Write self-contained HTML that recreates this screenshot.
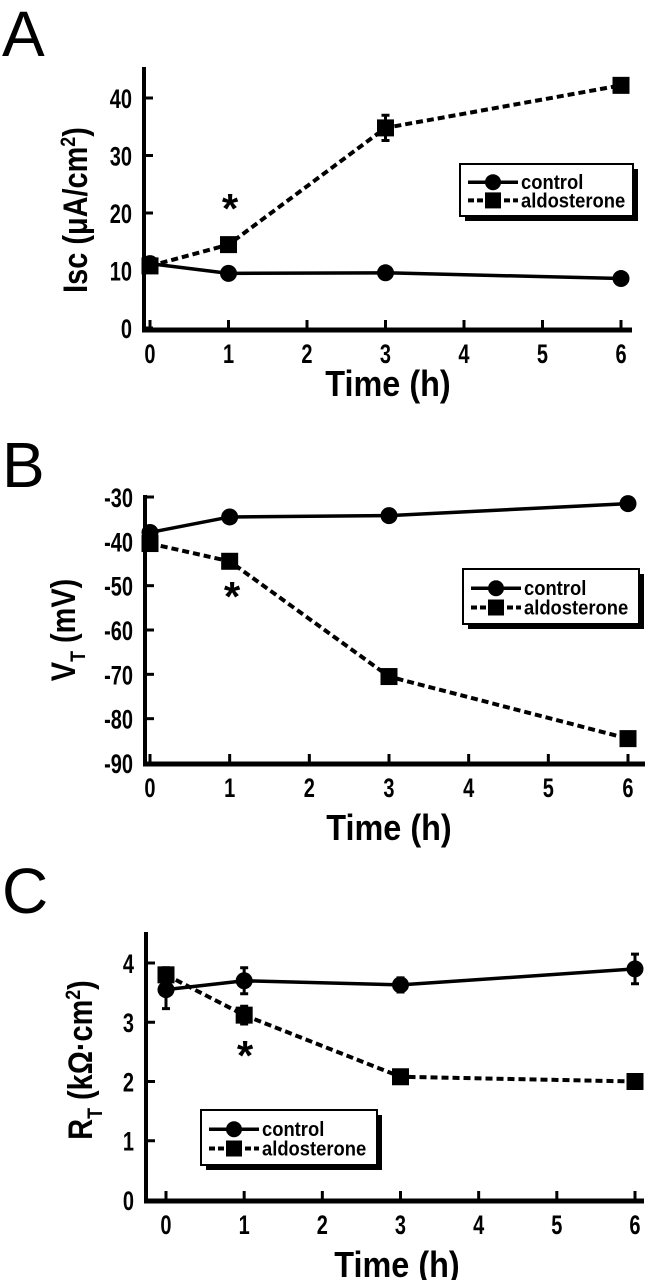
<!DOCTYPE html>
<html><head><meta charset="utf-8">
<style>
html,body{margin:0;padding:0;background:#fff;}
svg{display:block;font-family:"Liberation Sans",Arial,sans-serif;}
.tk{font-weight:bold;font-size:27px;}
.tt{font-weight:bold;font-size:34px;}
.tm{font-weight:bold;font-size:36px;}
.lg{font-weight:bold;font-size:20px;}
.pl{font-size:64px;}
</style></head>
<body>
<svg id="fig" width="649" height="1280" viewBox="0 0 649 1280" xmlns="http://www.w3.org/2000/svg">
<text class="pl" x="2" y="56">A</text>
<text class="pl" x="2" y="487">B</text>
<text class="pl" x="2" y="913">C</text>
</svg>
<script>
const hours = [0, 1, 3, 6];
const xTicks = [0, 1, 2, 3, 4, 5, 6];
// Panel A: Isc
const aControl = [11.2, 9.5, 9.6, 8.6];
const aControlErr = [0, 0, 0, 0];
const aAldo = [10.8, 14.5, 34.8, 42.2];
const aAldoErr = [0, 0, 2.2, 0];
const aYTicks = [0, 10, 20, 30, 40];
// Panel B: VT
const bControl = [-38, -34.5, -34.2, -31.5];
const bControlErr = [0, 0, 0, 0];
const bAldo = [-40.5, -44.5, -70.5, -84.5];
const bAldoErr = [0, 0, 0, 0];
const bYTicks = [-90, -80, -70, -60, -50, -40, -30];
// Panel C: RT
const cControl = [3.55, 3.7, 3.63, 3.9];
const cControlErr = [0.32, 0.22, 0.12, 0.25];
const cAldo = [3.8, 3.12, 2.08, 2.0];
const cAldoErr = [0.12, 0.15, 0, 0];
const cYTicks = [0, 1, 2, 3, 4];

const NS = "http://www.w3.org/2000/svg";
const svg = document.getElementById('fig');
function mk(tag, attrs, parent) {
  const e = document.createElementNS(NS, tag);
  for (const k in attrs) e.setAttribute(k, attrs[k]);
  (parent || svg).appendChild(e);
  return e;
}

function panel(cfg) {
  const g = mk('g', {});
  
  
  const X = h => cfg.x0 + (cfg.x6 - cfg.x0) * h / 6;
  const Y = v => cfg.yb + (cfg.ytop - cfg.yb) * (v - cfg.ymin) / (cfg.ymax - cfg.ymin);
  const ya = mk('line', {x1: cfg.ax, y1: cfg.axTop, x2: cfg.ax, y2: cfg.axY + 2, stroke: '#000', 'stroke-width': 4}, g);
  
  
  const xa = mk('line', {x1: cfg.ax - 2, y1: cfg.axY, x2: cfg.axRight, y2: cfg.axY, stroke: '#000', 'stroke-width': 5}, g);
  
  
  cfg.yTicks.forEach(v => {
    const t = mk('line', {x1: cfg.ax, y1: Y(v), x2: cfg.ax + 9, y2: Y(v), stroke: '#000', 'stroke-width': 3}, g);
    
    
    const lx = cfg.ax - 12;
    const l = mk('text', {class: 'tk', x: lx, y: Y(v) + 10, 'text-anchor': 'end', transform: `translate(${lx} 0) scale(0.74 1) translate(${-lx} 0)`}, g);
    l.textContent = String(v);
    
    
  });
  xTicks.forEach(h => {
    const t = mk('line', {x1: X(h), y1: cfg.axY, x2: X(h), y2: cfg.axY - 10, stroke: '#000', 'stroke-width': 3}, g);
    
    
    const l = mk('text', {class: 'tk', x: X(h), y: cfg.axY + 33, 'text-anchor': 'middle', transform: `translate(${X(h)} 0) scale(0.74 1) translate(${-X(h)} 0)`}, g);
    l.textContent = String(h);
    
    
  });
  const xt = mk('text', {class: 'tm', x: cfg.timeX, y: cfg.timeY, 'text-anchor': 'middle', transform: `translate(${cfg.timeX} 0) scale(0.9 1) translate(${-cfg.timeX} 0)`}, g);
  xt.textContent = 'Time (h)';
  
  
  const yt = mk('text', {class: 'tt', x: 0, y: 0, 'text-anchor': 'middle', transform: `translate(${cfg.titleX} ${cfg.titleY}) rotate(-90) scale(0.85 1)`}, g);
  yt.innerHTML = cfg.title;
  
  
  function series(vals, errs, dashed, square, nm) {
    const pts = vals.map((v, i) => X(hours[i]) + ',' + Y(v)).join(' ');
    const pl = mk('polyline', {points: pts, fill: 'none', stroke: '#000', 'stroke-width': dashed ? 4 : 3.5, 'stroke-dasharray': dashed ? '7,4' : 'none'}, g);
    
    
    vals.forEach((v, i) => {
      const x = X(hours[i]), y = Y(v);
      if (errs[i] > 0) {
        const e1 = Y(v + errs[i]), e2 = Y(v - errs[i]);
        const eb = mk('path', {d: `M${x},${e1}V${e2}M${x - 4},${e1}H${x + 4}M${x - 4},${e2}H${x + 4}`, stroke: '#000', 'stroke-width': 3, fill: 'none'}, g);
        
        
      }
      let m;
      if (square) m = mk('rect', {x: x - 8.5, y: y - 8.5, width: 17, height: 17, fill: '#000'}, g);
      else m = mk('circle', {cx: x, cy: y, r: 8.5, fill: '#000'}, g);
      
      
    });
  }
  series(cfg.ctrl, cfg.ctrlErr, false, false, 'control');
  series(cfg.aldo, cfg.aldoErr, true, true, 'aldosterone');
  const st = mk('text', {x: cfg.starX, y: cfg.starY + 18, 'text-anchor': 'middle', 'font-size': 42, 'font-weight': 'bold'}, g);
  st.textContent = '*';
  
  
  const L = cfg.leg;
  const lg = mk('g', {}, g);
  
  
  mk('rect', {x: L.x + 5, y: L.y + 5, width: L.w, height: L.h, fill: '#000'}, lg);
  mk('rect', {x: L.x, y: L.y, width: L.w, height: L.h, fill: '#fff', stroke: '#000', 'stroke-width': 2}, lg);
  const r1 = L.y + L.h * 0.35, r2 = L.y + L.h * 0.7;
  const e1 = mk('g', {}, lg);
  
  
  mk('line', {x1: L.x + 8, y1: r1, x2: L.x + 58, y2: r1, stroke: '#000', 'stroke-width': 3.5}, e1);
  mk('circle', {cx: L.x + 33, cy: r1, r: 8, fill: '#000'}, e1);
  const tx = L.x + 61;
  const t1 = mk('text', {class: 'lg', x: tx, y: r1 + 7, transform: `translate(${tx} 0) scale(0.92 1) translate(${-tx} 0)`}, e1);
  t1.textContent = 'control';
  const e2 = mk('g', {}, lg);
  
  
  mk('line', {x1: L.x + 8, y1: r2, x2: L.x + 58, y2: r2, stroke: '#000', 'stroke-width': 4, 'stroke-dasharray': '6,3'}, e2);
  mk('rect', {x: L.x + 25, y: r2 - 8, width: 16, height: 16, fill: '#000'}, e2);
  const t2 = mk('text', {class: 'lg', x: tx, y: r2 + 7, transform: `translate(${tx} 0) scale(0.92 1) translate(${-tx} 0)`}, e2);
  t2.textContent = 'aldosterone';
}

panel({name: 'panel-a-isc', x0: 150, x6: 621, ytop: 98, yb: 328, ymin: 0, ymax: 40,
  ax: 144, axTop: 67, axY: 330, axRight: 632, yTicks: aYTicks,
  ctrl: aControl, ctrlErr: aControlErr, aldo: aAldo, aldoErr: aAldoErr,
  title: 'Isc (μA/cm<tspan dy="-12" font-size="21">2</tspan><tspan dy="12">)</tspan>', titleX: 87, titleY: 210,
  timeX: 388, timeY: 396, starX: 230, starY: 205,
  leg: {x: 460, y: 164, w: 173, h: 52}});
panel({name: 'panel-b-vt', x0: 150, x6: 628, ytop: 497, yb: 763, ymin: -90, ymax: -30,
  ax: 145, axTop: 495, axY: 764, axRight: 645, yTicks: bYTicks,
  ctrl: bControl, ctrlErr: bControlErr, aldo: bAldo, aldoErr: bAldoErr,
  title: 'V<tspan dy="10" font-size="21">T</tspan><tspan dy="-10"> (mV)</tspan>', titleX: 75, titleY: 630,
  timeX: 389, timeY: 840, starX: 232, starY: 593,
  leg: {x: 463, y: 569, w: 176, h: 55}});
panel({name: 'panel-c-rt', x0: 166, x6: 635, ytop: 963, yb: 1200, ymin: 0, ymax: 4,
  ax: 146, axTop: 932, axY: 1201, axRight: 644, yTicks: cYTicks,
  ctrl: cControl, ctrlErr: cControlErr, aldo: cAldo, aldoErr: cAldoErr,
  title: 'R<tspan dy="10" font-size="21">T</tspan><tspan dy="-10"> (kΩ·cm</tspan><tspan dy="-12" font-size="21">2</tspan><tspan dy="12">)</tspan>', titleX: 92, titleY: 1060,
  timeX: 397, timeY: 1277, starX: 245, starY: 1052,
  leg: {x: 201, y: 1110, w: 176, h: 55}});
</script>
</body></html>
